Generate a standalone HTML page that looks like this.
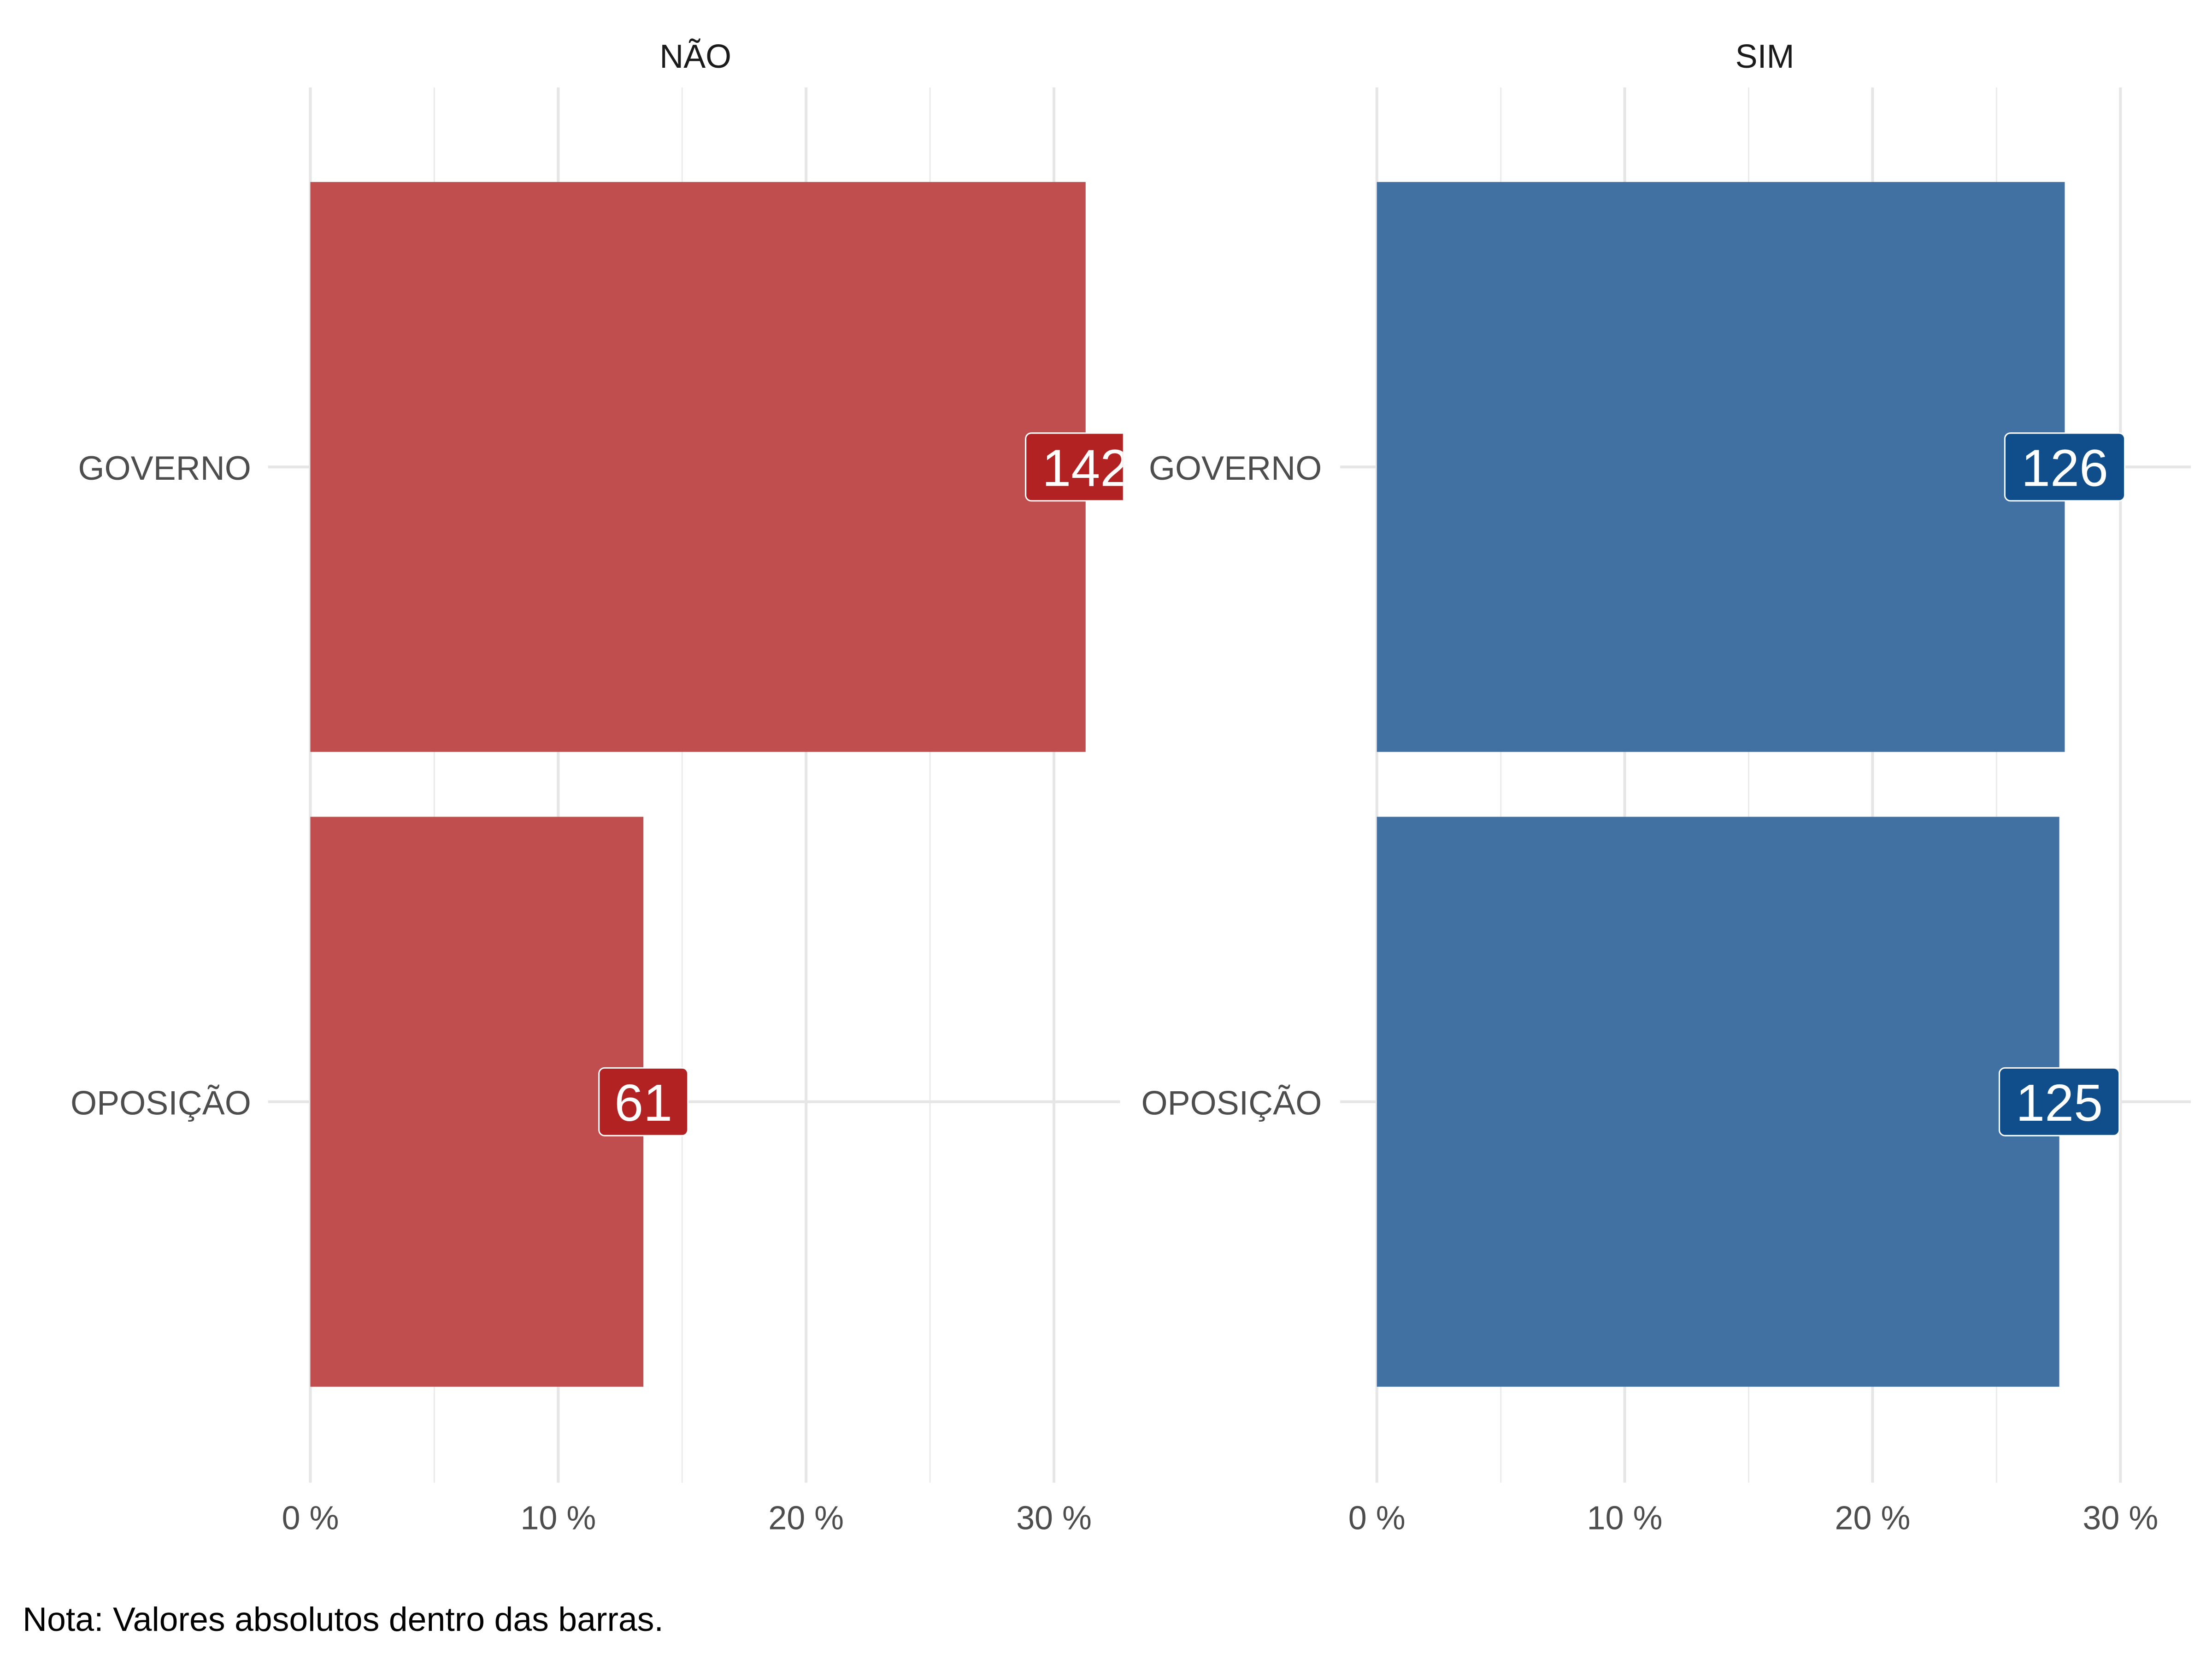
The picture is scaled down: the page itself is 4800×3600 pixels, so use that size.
<!DOCTYPE html>
<html><head><meta charset="utf-8"><style>
html,body{margin:0;padding:0;background:#fff;}
svg{display:block;font-family:"Liberation Sans",Arial,sans-serif;}
</style></head><body>
<svg id="chart" width="4800" height="3600" viewBox="0 0 1568 1176" xmlns="http://www.w3.org/2000/svg">
<defs>
<clipPath id="clip0"><rect x="150" y="50" width="646" height="1010"/></clipPath>
<clipPath id="clip1"><rect x="945" y="50" width="623" height="1010"/></clipPath>
</defs>
<rect width="1568" height="1176" fill="#fff"/>
<g id="panels"></g>
<text x="16" y="1156" font-size="24" fill="#000">Nota: Valores absolutos dentro das barras.</text>
</svg>
<script>
const facets = ["NÃO", "SIM"];
const categories = ["GOVERNO", "OPOSIÇÃO"];
const countsNao = [142, 61];
const countsSim = [126, 125];
const total = 454;
const xTicks = [0, 10, 20, 30];
const xTickLabels = ["0 %", "10 %", "20 %", "30 %"];
const xMinor = [5, 15, 25];

const NS = "http://www.w3.org/2000/svg";
const root = document.getElementById("panels");
function mk(tag, attrs, parent) {
  const e = document.createElementNS(NS, tag);
  for (const k in attrs) e.setAttribute(k, attrs[k]);
  (parent || root).appendChild(e);
  return e;
}
const panels = [
  {x0: 220, left: 190, right: 794, labelX: 178, title: 493, counts: countsNao, bar: "#C14E4E", lab: "#B22222"},
  {x0: 976, left: 950, right: 1553, labelX: 937, title: 1251, counts: countsSim, bar: "#4071A2", lab: "#104E8B"}
];
const pxPerPct = 17.57;
const yTop = 62, yBot = 1051;
const bandCenters = [331, 781];
const barHalf = 202;
function yScale(i) { return bandCenters[i]; }

panels.forEach((p, pi) => {
  const g = mk("g", {});
  
  
  const plot = mk("g", {"clip-path": "url(#clip" + pi + ")"}, g);
  
  
  const xs = v => p.x0 + v * pxPerPct;
  xMinor.forEach(v => {
    const l = mk("line", {x1: xs(v), x2: xs(v), y1: yTop, y2: yBot, stroke: "#ebebeb", "stroke-width": 1}, plot);
    
    
  });
  xTicks.forEach((v, i) => {
    const l = mk("line", {x1: xs(v), x2: xs(v), y1: yTop, y2: yBot, stroke: "#e6e6e6", "stroke-width": 2}, plot);
    
    
    const t = mk("text", {x: xs(v), y: 1084, "font-size": 23.5, fill: "#4d4d4d", "text-anchor": "middle"}, g);
    t.textContent = xTickLabels[i];
    
    
  });
  categories.forEach((c, i) => {
    const l = mk("line", {x1: p.left, x2: p.right, y1: yScale(i), y2: yScale(i), stroke: "#e6e6e6", "stroke-width": 2}, plot);
    
    
    const t = mk("text", {x: p.labelX, y: yScale(i) + 9, "font-size": 24, fill: "#4d4d4d", "text-anchor": "end"}, g);
    t.textContent = c;
    
    
  });
  const tt = mk("text", {x: p.title, y: 48, "font-size": 23.5, fill: "#1a1a1a", "text-anchor": "middle"}, g);
  tt.textContent = facets[pi];
  
  
  p.counts.forEach((n, i) => {
    const pct = n / total * 100;
    const xe = xs(pct);
    const r = mk("rect", {x: p.x0, y: yScale(i) - barHalf, width: xe - p.x0, height: barHalf * 2, fill: p.bar}, plot);
    
    
  });
  p.counts.forEach((n, i) => {
    const pct = n / total * 100;
    const xe = xs(pct);
    const s = String(n);
    const w = s.length * 22 + 19;
    const b = mk("rect", {x: xe - w / 2, y: yScale(i) - 24, width: w, height: 48, rx: 4, fill: p.lab, stroke: "#fff", "stroke-width": 1}, plot);
    
    
    const t = mk("text", {x: xe, y: yScale(i) + 13.5, "font-size": 37, fill: "#fff", "text-anchor": "middle"}, plot);
    t.textContent = s;
    
    
  });
});
</script>
</body></html>
